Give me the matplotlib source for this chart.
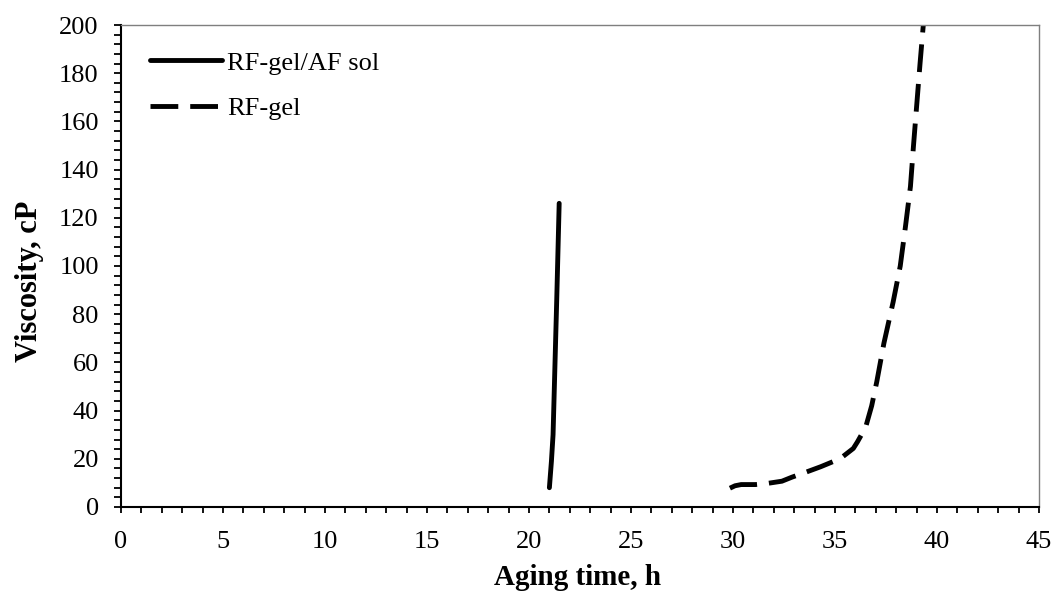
import numpy as np
import matplotlib
matplotlib.use('Agg')
import matplotlib.pyplot as plt
from matplotlib.ticker import MultipleLocator
from matplotlib.lines import Line2D

plt.rcParams['font.family'] = ['Liberation Serif', 'DejaVu Serif']
plt.rcParams['lines.scale_dashes'] = False

# viscosity vs aging time
rf_af_time = [21.0, 21.1, 21.18, 21.27, 21.36, 21.48]
rf_af_visc = [8, 19, 30, 58, 86, 126]

rf_time = [29.85, 30.1, 30.4, 31.1, 31.7, 32.4, 32.9, 33.5, 34.3, 34.9, 35.4,
           35.9, 36.1, 36.5, 36.8, 37.05, 37.4, 37.85, 38.2, 38.45, 38.7,
           38.85, 39.0, 39.17, 39.33, 39.5]
rf_visc = [7.8, 8.8, 9.3, 9.3, 9.8, 10.7, 12.4, 14.2, 16.7, 18.8, 21,
           24.3, 27, 33, 42, 52, 68, 85, 100, 116, 133,
           150, 166, 184, 200, 220]

labels = ['RF-gel/AF sol', 'RF-gel']

fig = plt.figure(figsize=(10.55, 5.94), dpi=100)
ax = fig.add_axes([0.1147, 0.1465, 0.8701, 0.8114])

lw = 3.5
dash = (20, 8.6)
ax.plot(rf_af_time, rf_af_visc, color='black', lw=lw,
        solid_capstyle='round', solid_joinstyle='round')
ax.plot(rf_time, rf_visc, color='black', lw=lw, dashes=dash,
        dash_capstyle='butt', dash_joinstyle='round')

ax.set_xlim(0, 45)
ax.set_ylim(0, 200)
ax.xaxis.set_major_locator(MultipleLocator(5))
ax.xaxis.set_minor_locator(MultipleLocator(1))
ax.yaxis.set_major_locator(MultipleLocator(20))
ax.yaxis.set_minor_locator(MultipleLocator(4))

ax.tick_params(axis='x', which='both', direction='out', length=4, width=1.3,
               labelsize=19, pad=13)
ax.tick_params(axis='y', which='both', direction='out', length=5, width=1.3,
               labelsize=19, pad=11)

for s in ['left', 'bottom']:
    ax.spines[s].set_linewidth(1.5)
    ax.spines[s].set_color('black')
for s in ['top', 'right']:
    ax.spines[s].set_linewidth(1.0)
    ax.spines[s].set_color('#7f7f7f')

ax.set_xlabel('Aging time, h', fontsize=21, fontweight='bold')
ax.set_ylabel('Viscosity, cP', fontsize=22, fontweight='bold')
ax.xaxis.set_label_coords(0.497, -0.118)
ax.yaxis.set_label_coords(-0.084, 0.469)

handles = [Line2D([], [], color='black', lw=lw, solid_capstyle='round'),
           Line2D([], [], color='black', lw=lw, dashes=dash, dash_capstyle='butt')]
ax.legend(handles, labels, loc='upper left', frameon=False, fontsize=19,
          handlelength=2.73, handletextpad=0.19, labelspacing=0.85,
          borderpad=0, borderaxespad=0, bbox_to_anchor=(0.0316, 0.946))

fig.savefig('out.png', dpi=100)
